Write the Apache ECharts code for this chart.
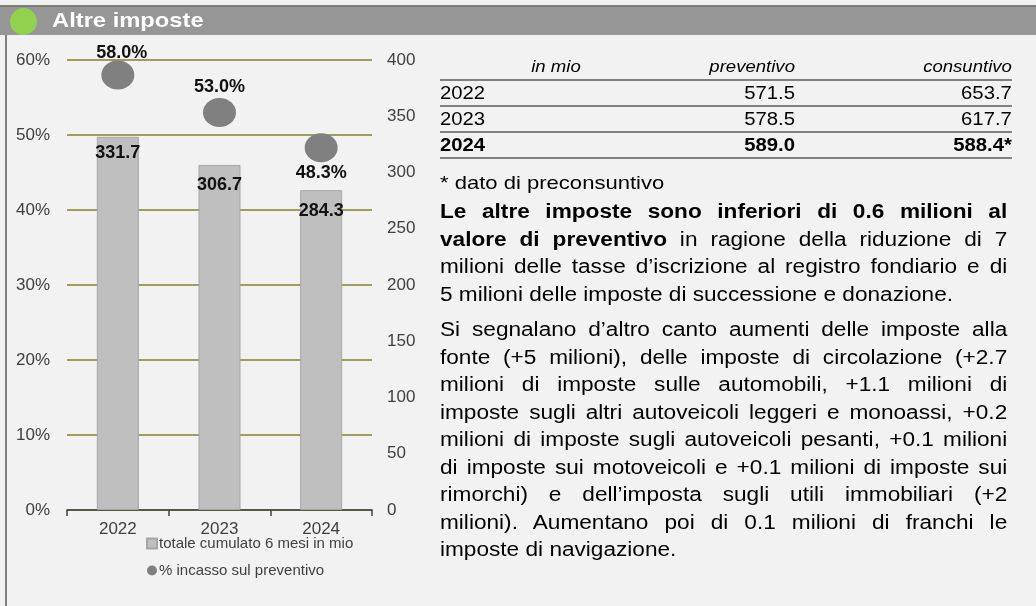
<!DOCTYPE html>
<html>
<head>
<meta charset="utf-8">
<script src="https://cdn.jsdelivr.net/npm/echarts@6/dist/echarts.min.js"></script>
<style>
  html, body { margin: 0; padding: 0; background: #f2f2f2; }
  #wrap { position: relative; width: 1036px; height: 606px; overflow: hidden; }
  #chart { position: absolute; left: 0; top: 0; width: 1036px; height: 606px; }
  /* the reference is stretched a bit horizontally, so the text panel is too */
  #panel {
    position: absolute; left: 440px; top: 0; width: 493px; height: 606px;
    transform: scaleX(1.16); transform-origin: 0 0;
    font-family: "Liberation Sans", Arial, sans-serif; color: #000;
  }
  .row { position: absolute; left: 0; width: 493px; height: 24px; line-height: 24px;
         border-bottom: 2px solid #7f7f7f; font-size: 17.5px; }
  .row span { position: absolute; top: 0; white-space: nowrap; }
  .row .c0 { left: 0; }
  .row .c1 { right: 187px; }
  .row .c2 { right: 0; }
  .head { font-size: 16px; font-style: italic; }
  .head .c0 { left: 0; width: 200px; text-align: center; }
  .bold { font-weight: bold; }
  #note { position: absolute; left: 0; top: 170px; font-size: 19px; line-height: 26px; }
  .par { position: absolute; left: 0; width: 489px; font-size: 19.5px; line-height: 27.5px; }
  .par .l { display: block; text-align: justify; text-align-last: justify; }
  .par .e { display: block; text-align: left; }
</style>
</head>
<body>
<div id="wrap">
  <div id="chart"></div>
  <div id="panel">
    <div id="table"></div>
    <div id="note">* dato di preconsuntivo</div>
    <div class="par" style="top:198px">
      <span class="l"><b>Le altre imposte sono inferiori di 0.6 milioni al</b></span>
      <span class="l"><b>valore di preventivo</b> in ragione della riduzione di 7</span>
      <span class="l">milioni delle tasse d’iscrizione al registro fondiario e di</span>
      <span class="e">5 milioni delle imposte di successione e donazione.</span>
    </div>
    <div class="par" style="top:316px">
      <span class="l">Si segnalano d’altro canto aumenti delle imposte alla</span>
      <span class="l">fonte (+5 milioni), delle imposte di circolazione (+2.7</span>
      <span class="l">milioni di imposte sulle automobili, +1.1 milioni di</span>
      <span class="l">imposte sugli altri autoveicoli leggeri e monoassi, +0.2</span>
      <span class="l">milioni di imposte sugli autoveicoli pesanti, +0.1 milioni</span>
      <span class="l">di imposte sui motoveicoli e +0.1 milioni di imposte sui</span>
      <span class="l">rimorchi) e dell’imposta sugli utili immobiliari (+2</span>
      <span class="l">milioni). Aumentano poi di 0.1 milioni di franchi le</span>
      <span class="e">imposte di navigazione.</span>
    </div>
  </div>
</div>
<script>
  const FONT = '"Liberation Sans", Arial, sans-serif';

  // chart data
  const years = ['2022', '2023', '2024'];
  const totals = [331.7, 306.7, 284.3];          // totale cumulato 6 mesi in mio
  const pctIncasso = [58.0, 53.0, 48.3];        // % incasso sul preventivo
  const pctLabelPos = ['top', 'top', 'bottom'];
  const barName = 'totale cumulato 6 mesi in mio';
  const dotName = '% incasso sul preventivo';

  // table data
  const tableHead = ['in mio', 'preventivo', 'consuntivo'];
  const tableYears = ['2022', '2023', '2024'];
  const preventivo = ['571.5', '578.5', '589.0'];
  const consuntivo = ['653.7', '617.7', '588.4*'];

  // table
  const rowTops = [55, 81, 107, 133];
  let html = '<div class="row head" style="top:' + rowTops[0] + 'px">' +
    '<span class="c0">' + tableHead[0] + '</span>' +
    '<span class="c1">' + tableHead[1] + '</span>' +
    '<span class="c2">' + tableHead[2] + '</span></div>';
  tableYears.forEach((y, i) => {
    const cls = i === tableYears.length - 1 ? 'row bold' : 'row';
    html += '<div class="' + cls + '" style="top:' + rowTops[i + 1] + 'px">' +
      '<span class="c0">' + y + '</span>' +
      '<span class="c1">' + preventivo[i] + '</span>' +
      '<span class="c2">' + consuntivo[i] + '</span></div>';
  });
  document.getElementById('table').innerHTML = html;

  // label tweaks per point (excel puts them a bit unevenly)
  const barLabelDist = [7, 11, 12];
  const dotLabelOffset = [[4, 4], [0, 0], [0, 0]];

  const chart = echarts.init(document.getElementById('chart'));
  const option = {
    backgroundColor: '#f2f2f2',
    animation: false,
    textStyle: { fontFamily: FONT },
    graphic: [
      { type: 'rect', silent: true, shape: { x: 0, y: 5, width: 1036, height: 2 }, style: { fill: '#7f7f7f' } },
      { type: 'rect', silent: true, shape: { x: 0, y: 7, width: 1036, height: 28 }, style: { fill: '#969696' } },
      { type: 'rect', silent: true, shape: { x: 5, y: 35, width: 2, height: 571 }, style: { fill: '#808080' } },
      { type: 'circle', silent: true, shape: { cx: 23.5, cy: 21.5, r: 13.5 }, style: { fill: '#92d050' } },
      {
        type: 'text', silent: true, x: 52, y: 21, scaleX: 1.13,
        style: {
          text: 'Altre imposte', fill: '#ffffff', fontSize: 21, fontWeight: 'bold',
          fontFamily: FONT, verticalAlign: 'middle'
        }
      }
    ],
    legend: {
      orient: 'vertical',
      left: 146,
      top: 536,
      padding: 0,
      itemWidth: 10,
      itemHeight: 10,
      itemGap: 12,
      data: [
        { name: barName, icon: 'rect' },
        { name: dotName, icon: 'circle' }
      ],
      textStyle: { fontSize: 15, color: '#404040', fontFamily: FONT, padding: [0, 0, 0, -3] }
    },
    grid: { left: 67, right: 664, top: 60, bottom: 96 },
    xAxis: {
      type: 'category',
      data: years,
      axisLine: { lineStyle: { color: '#404040', width: 1.5 } },
      axisTick: { show: true, length: 6, lineStyle: { color: '#404040', width: 1.5 } },
      axisLabel: { fontSize: 17, color: '#404040', margin: 11 },
      splitLine: { show: false }
    },
    yAxis: [
      {
        type: 'value', min: 0, max: 60, interval: 10, position: 'left',
        axisLabel: { formatter: '{value}%', fontSize: 17, color: '#404040', margin: 17 },
        axisLine: { show: false },
        axisTick: { show: false },
        splitLine: { lineStyle: { color: '#828228', width: 1.5 } }
      },
      {
        type: 'value', min: 0, max: 400, interval: 50, position: 'right',
        axisLabel: { fontSize: 17, color: '#404040', margin: 15 },
        axisLine: { show: false },
        axisTick: { show: false },
        splitLine: { show: false }
      }
    ],
    series: [
      {
        name: barName,
        type: 'bar',
        yAxisIndex: 1,
        barWidth: 42,
        data: totals.map((v, i) => ({ value: v, label: { distance: barLabelDist[i] } })),
        itemStyle: { color: '#bfbfbf', borderColor: '#a6a6a6', borderWidth: 1 },
        label: {
          show: true, position: 'insideTop',
          fontSize: 18, fontWeight: 'bold', color: '#111'
        }
      },
      {
        name: dotName,
        type: 'scatter',
        yAxisIndex: 0,
        symbolSize: [33, 29],
        itemStyle: { color: '#808080', opacity: 1 },
        data: pctIncasso.map((v, i) => ({
          value: v,
          label: { position: pctLabelPos[i], offset: dotLabelOffset[i] }
        })),
        label: {
          show: true, distance: 2, fontSize: 18, fontWeight: 'bold', color: '#111',
          formatter: (p) => p.value.toFixed(1) + '%'
        }
      }
    ]
  };
  chart.setOption(option);
</script>
</body>
</html>
